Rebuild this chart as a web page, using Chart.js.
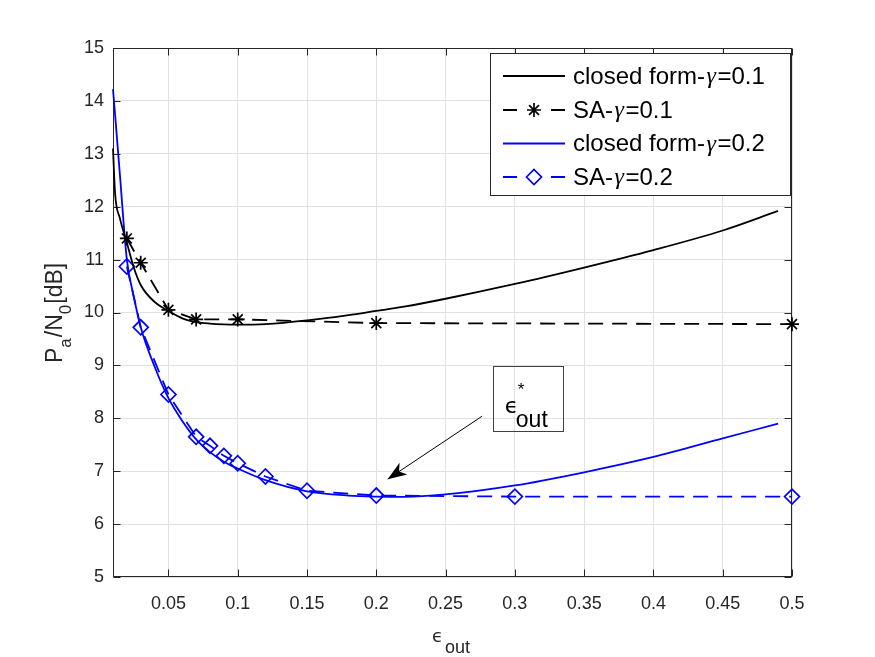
<!DOCTYPE html>
<html><head><meta charset="utf-8">
<script src="https://cdn.jsdelivr.net/npm/chart.js@4.4.1/dist/chart.umd.min.js"></script>
<style>html,body{margin:0;padding:0;background:#fff;}canvas{display:block;}</style>
</head><body>
<canvas id="c" width="875" height="657"></canvas>
<script>
// ---- data ----
const closedX   = [0.01, 0.0115, 0.015, 0.02, 0.025, 0.03, 0.04, 0.05, 0.06, 0.07, 0.08, 0.09, 0.1, 0.12, 0.15, 0.18, 0.2, 0.22, 0.25, 0.3, 0.35, 0.4, 0.45, 0.49];
const closedG01 = [13.10, 12.25, 11.78, 11.32, 10.85, 10.52, 10.20, 10.03, 9.89, 9.82, 9.79, 9.775, 9.77, 9.78, 9.85, 9.95, 10.03, 10.11, 10.26, 10.54, 10.85, 11.18, 11.55, 11.92];
const closedG02 = [14.22, 13.74, 12.60, 11.00, 10.30, 9.72, 8.98, 8.38, 7.95, 7.60, 7.36, 7.18, 7.05, 6.83, 6.62, 6.54, 6.52, 6.515, 6.56, 6.73, 6.98, 7.27, 7.62, 7.90];
const saX01 = [0.02, 0.03, 0.05, 0.07, 0.1, 0.2, 0.5];
const saY01 = [11.40, 10.94, 10.05, 9.87, 9.87, 9.80, 9.78];
const saX02 = [0.02, 0.03, 0.05, 0.07, 0.08, 0.09, 0.1, 0.12, 0.15, 0.2, 0.3, 0.5];
const saY02 = [10.87, 9.72, 8.45, 7.65, 7.48, 7.29, 7.15, 6.90, 6.63, 6.54, 6.52, 6.52];
const xTicks = [0.05, 0.1, 0.15, 0.2, 0.25, 0.3, 0.35, 0.4, 0.45, 0.5];
const yTicks = [5, 6, 7, 8, 9, 10, 11, 12, 13, 14, 15];
const seriesLabels = ['closed form-γ=0.1', 'SA-γ=0.1', 'closed form-γ=0.2', 'SA-γ=0.2'];
const annotationText = { sym: 'ϵ', sup: '*', sub: 'out' };

function pts(xs, ys) { return xs.map((x, i) => ({ x: x, y: ys[i] })); }

const AX = '#262626';
const SANS = "'Liberation Sans', Arial, Helvetica, sans-serif";

const axesBox = {
  id: 'axesBox',
  beforeDatasetsDraw(chart) {
    const { ctx, chartArea: a, scales } = chart;
    const L = Math.round(a.left) + 0.5, R = Math.round(a.right) - 0.5;
    const T = Math.round(a.top) + 0.5, B = Math.round(a.bottom) - 0.5;
    ctx.save();
    ctx.strokeStyle = AX; ctx.lineWidth = 1;
    ctx.strokeRect(L, T, R - L, B - T);
    const tl = 7;
    ctx.beginPath();
    xTicks.forEach(v => {
      const px = Math.round(scales.x.getPixelForValue(v)) + 0.5;
      ctx.moveTo(px, B); ctx.lineTo(px, B - tl);
      ctx.moveTo(px, T); ctx.lineTo(px, T + tl);
    });
    yTicks.forEach(v => {
      const py = Math.round(scales.y.getPixelForValue(v)) + 0.5;
      ctx.moveTo(L, py); ctx.lineTo(L + tl, py);
      ctx.moveTo(R, py); ctx.lineTo(R - tl, py);
    });
    ctx.stroke();
    ctx.restore();
  }
};

function drawGammaText(ctx, text, x, y, size) {
  const parts = text.split('γ');
  let cx = x;
  parts.forEach((p, i) => {
    ctx.font = size + 'px ' + SANS;
    ctx.fillText(p, cx, y);
    cx += ctx.measureText(p).width;
    if (i < parts.length - 1) {
      ctx.font = 'italic ' + size + "px 'Liberation Serif', 'DejaVu Serif', serif";
      ctx.fillText('γ', cx + 1.5, y);
      cx += ctx.measureText('γ').width + 3;
    }
  });
}

const legendPlugin = {
  id: 'matLegend',
  afterDatasetsDraw(chart) {
    const ctx = chart.ctx;
    const bx = { l: 490, t: 53, r: 791, b: 196 };
    ctx.save();
    ctx.fillStyle = '#fff';
    ctx.fillRect(bx.l, bx.t, bx.r - bx.l, bx.b - bx.t);
    ctx.strokeStyle = AX; ctx.lineWidth = 1;
    ctx.strokeRect(bx.l + 0.5, bx.t + 0.5, bx.r - bx.l - 1, bx.b - bx.t - 1);
    const rows = [76, 110, 143.5, 177];
    chart.data.datasets.forEach((ds, i) => {
      const yy = rows[i];
      ctx.save();
      ctx.strokeStyle = ds.borderColor; ctx.lineWidth = ds.borderWidth;
      ctx.setLineDash(ds.borderDash && ds.borderDash.length ? [14, 34] : []);
      ctx.beginPath(); ctx.moveTo(503, yy); ctx.lineTo(565, yy); ctx.stroke();
      ctx.setLineDash([]);
      if (ds.pointRadius > 0) {
        ctx.fillStyle = 'rgba(0,0,0,0)';
        ctx.strokeStyle = ds.pointBorderColor || ds.borderColor;
        ctx.lineWidth = ds.pointBorderWidth;
        Chart.helpers.drawPoint(ctx, { pointStyle: ds.pointStyle, radius: ds.pointRadius, borderWidth: ds.pointBorderWidth, rotation: 0 }, 534, yy);
      }
      ctx.restore();
      ctx.fillStyle = '#000';
      ctx.textBaseline = 'middle';
      ctx.textAlign = 'left';
      drawGammaText(ctx, ds.label, 573, yy + 1, 24);
    });
    ctx.restore();
  }
};

const labelsPlugin = {
  id: 'labelsAndNote',
  afterDraw(chart) {
    const { ctx, scales: { x, y } } = chart;
    ctx.save();
    ctx.fillStyle = AX;
    ctx.textBaseline = 'alphabetic';
    ctx.textAlign = 'left';
    // x-axis title: epsilon_out
    ctx.font = "18px 'DejaVu Sans', sans-serif";
    ctx.fillText('ϵ', 432, 642);
    ctx.font = '18px ' + SANS;
    ctx.fillText('out', 445, 653);
    // y-axis title: P_a/N_0[dB]
    ctx.save();
    ctx.translate(62, 363);
    ctx.rotate(-Math.PI / 2);
    const segs = [['P', 0], ['a', 1], ['/N', 0], ['0', 1], ['[dB]', 0]];
    let cx = 0;
    segs.forEach(([t, sub]) => {
      ctx.font = (sub ? 17 : 23) + 'px ' + SANS;
      ctx.fillText(t, cx, sub ? 9 : 0);
      cx += ctx.measureText(t).width + (sub ? 1 : 0);
    });
    ctx.restore();

    // annotation arrow (data coordinates)
    const tail = { x: x.getPixelForValue(0.2764), y: y.getPixelForValue(8.04) };
    const tip = { x: x.getPixelForValue(0.2082), y: y.getPixelForValue(6.85) };
    ctx.strokeStyle = '#000'; ctx.fillStyle = '#000'; ctx.lineWidth = 1;
    ctx.beginPath(); ctx.moveTo(tail.x, tail.y); ctx.lineTo(tip.x, tip.y); ctx.stroke();
    const ang = Math.atan2(tip.y - tail.y, tip.x - tail.x);
    const hl = 19, hw = 7;
    const bxp = tip.x - hl * Math.cos(ang), byp = tip.y - hl * Math.sin(ang);
    const nx = -Math.sin(ang), ny = Math.cos(ang);
    const mx = tip.x - 0.72 * hl * Math.cos(ang), my = tip.y - 0.72 * hl * Math.sin(ang);
    ctx.beginPath();
    ctx.moveTo(tip.x, tip.y);
    ctx.lineTo(bxp + nx * hw, byp + ny * hw);
    ctx.lineTo(mx, my);
    ctx.lineTo(bxp - nx * hw, byp - ny * hw);
    ctx.closePath(); ctx.fill();

    // annotation text box
    const l = x.getPixelForValue(0.2841), r = x.getPixelForValue(0.3347);
    const t = y.getPixelForValue(8.98), b = y.getPixelForValue(7.76);
    ctx.strokeStyle = '#404040'; ctx.lineWidth = 1;
    ctx.strokeRect(Math.round(l) + 0.5, Math.round(t) + 0.5, Math.round(r - l), Math.round(b - t));
    ctx.fillStyle = '#000';
    ctx.font = "22px 'DejaVu Sans', sans-serif";
    ctx.fillText(annotationText.sym, l + 12, t + 47);
    ctx.font = '17px ' + SANS;
    ctx.fillText(annotationText.sup, l + 25, t + 29);
    ctx.font = '23px ' + SANS;
    ctx.fillText(annotationText.sub, l + 23, t + 61);
    ctx.restore();
  }
};

const chart = new Chart(document.getElementById('c'), {
  type: 'line',
  data: {
    datasets: [
      { label: seriesLabels[0], data: pts(closedX, closedG01), borderColor: '#000000', borderWidth: 1.8,
        pointRadius: 0, cubicInterpolationMode: 'monotone', fill: false, clip: false },
      { label: seriesLabels[1], data: pts(saX01, saY01), borderColor: '#000000', borderWidth: 1.8, borderDash: [15, 9],
        pointStyle: 'star', pointRadius: 7, pointBorderWidth: 1.7, pointBorderColor: '#000000',
        pointBackgroundColor: 'rgba(0,0,0,0)', tension: 0, fill: false, clip: false },
      { label: seriesLabels[2], data: pts(closedX, closedG02), borderColor: '#0000ff', borderWidth: 1.8,
        pointRadius: 0, cubicInterpolationMode: 'monotone', fill: false, clip: false },
      { label: seriesLabels[3], data: pts(saX02, saY02), borderColor: '#0000ff', borderWidth: 1.8, borderDash: [15, 9],
        pointStyle: 'rectRot', pointRadius: 7.5, pointBorderWidth: 1.7, pointBorderColor: '#0000ff',
        pointBackgroundColor: 'rgba(0,0,0,0)', tension: 0, fill: false, clip: false }
    ]
  },
  options: {
    responsive: false, animation: false, devicePixelRatio: 1, events: [],
    layout: { padding: { left: 0, top: 48, right: 83, bottom: 0 } },
    plugins: { legend: { display: false }, tooltip: { enabled: false }, title: { display: false } },
    scales: {
      x: {
        type: 'linear', min: 0.01, max: 0.5,
        afterBuildTicks: s => { s.ticks = xTicks.map(v => ({ value: v })); },
        afterFit: s => { s.height = 80; },
        grid: { color: '#e1e1e1', lineWidth: 1, drawTicks: false },
        border: { display: false },
        ticks: { padding: 16, color: AX, font: { family: SANS, size: 18 }, maxRotation: 0, autoSkip: false,
          callback: v => String(v) }
      },
      y: {
        type: 'linear', min: 5, max: 15,
        afterBuildTicks: s => { s.ticks = yTicks.map(v => ({ value: v })); },
        afterFit: s => { s.width = 113; },
        grid: { color: '#e1e1e1', lineWidth: 1, drawTicks: false },
        border: { display: false },
        ticks: { padding: 9, color: AX, font: { family: SANS, size: 18 }, autoSkip: false,
          callback: v => String(v) }
      }
    }
  },
  plugins: [axesBox, legendPlugin, labelsPlugin]
});
</script>
</body></html>
